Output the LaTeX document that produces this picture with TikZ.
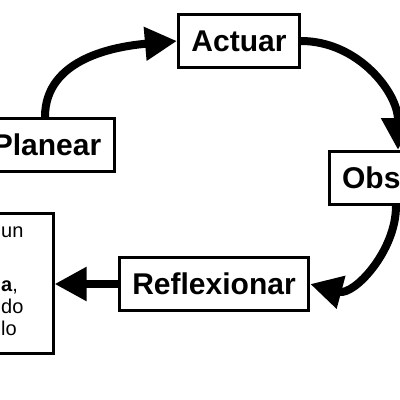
\documentclass[tikz,border=0pt]{standalone}
\usepackage{fontspec}
\setmainfont{Liberation Sans}
\usetikzlibrary{arrows.meta,positioning}
\tikzset{
  stagebox/.style={
    rectangle, draw=black, line width=3pt, fill=white,
    minimum height=53pt, inner xsep=13pt,
    font=\fontsize{30}{33}\selectfont\bfseries
  },
  notebox/.style={
    rectangle, draw=black, line width=3pt, fill=white,
    minimum width=180pt, minimum height=140pt
  },
  notetext/.style={
    align=left, inner sep=0pt, font=\fontsize{20}{22}\selectfont
  },
  cycarrow/.style={
    -{Triangle[length=32pt,width=32pt]}, line width=8pt, color=black
  },
}

\begin{document}
\begin{tikzpicture}[x=1pt,y=-1pt]
  \useasboundingbox (0,0) rectangle (400,400);
  \clip (0,0) rectangle (400,400);

  \node[stagebox] (act)  at (239,41)  {Actuar};
  \node[stagebox] (plan) at (47,145)  {Planear};
  \node[stagebox] (obs)  at (408,178) {Observar};
  \node[stagebox] (refl) at (214,284) {Reflexionar};
  \node[notebox]  (note) at (-37,283) {};
  % text of the note box, cut by the left edge
  \node[notetext, anchor=base west] (notetxt) at (1,335) {un\\[32pt]\textbf{a},\\do\\lo};

  \draw[cycarrow] ([xshift=-2pt]plan.north) to[out=90,in=185] (act.west);
  \draw[cycarrow] (act.east) to[out=0,in=90] ([xshift=-10pt]obs.north);
  \draw[cycarrow] ([xshift=-12pt]obs.south) to[out=-90,in=-15] (refl.east);
  \draw[cycarrow] (refl.west) -- (refl.west -| note.east);
\end{tikzpicture}
\end{document}
